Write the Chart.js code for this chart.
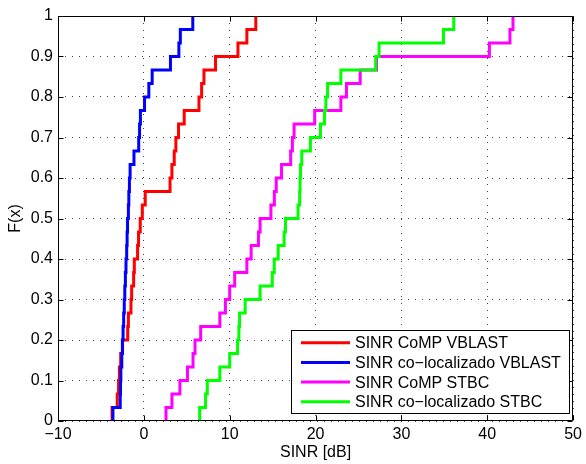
<!DOCTYPE html>
<html><head><meta charset="utf-8">
<script src="https://cdn.jsdelivr.net/npm/chart.js@4"></script>
<style>html,body{margin:0;padding:0;background:#fff;}</style>
</head><body>
<canvas id="c" width="586" height="464"></canvas>
<script>
const seriesLabels = ['SINR CoMP VBLAST', 'SINR co\u2212localizado VBLAST', 'SINR CoMP STBC', 'SINR co\u2212localizado STBC'];
const seriesColors = ['#ff0000', '#0000ff', '#ff00ff', '#00ff00'];
const redValues = [-3.7, -3.1, -2.95, -2.85, -2.7, -2.48, -1.88, -1.8, -1.5, -1.42, -1.19, -1.11, -0.73, -0.62, -0.42, -0.18, 0.16, 3.05, 3.27, 3.54, 3.73, 4.04, 4.7, 6.42, 6.73, 7.0, 8.35, 10.96, 12.0, 13.04];
const blueValues = [-3.6, -2.75, -2.72, -2.68, -2.57, -2.5, -2.42, -2.35, -2.28, -2.22, -2.15, -2.08, -2.0, -1.95, -1.9, -1.8, -1.75, -1.68, -1.6, -1.15, -0.6, -0.5, -0.4, 0.08, 0.58, 0.97, 3.1, 4.08, 4.25, 5.7];
const magentaValues = [2.58, 3.27, 4.2, 5.08, 5.73, 5.96, 6.62, 8.85, 9.5, 10.0, 10.58, 12.0, 12.5, 13.35, 13.54, 14.8, 15.2, 15.42, 16.04, 17.1, 17.3, 17.5, 19.9, 22.95, 23.6, 25.2, 27.1, 40.25, 42.64, 43.0];
const greenValues = [6.5, 7.19, 7.39, 8.85, 10.0, 10.92, 11.07, 11.15, 11.8, 13.54, 14.96, 15.19, 15.65, 16.34, 16.5, 17.96, 18.15, 18.2, 18.25, 18.4, 19.4, 20.57, 21.04, 21.2, 21.4, 22.95, 27.0, 27.4, 34.9, 36.1];
const xTickValues = [-10, 0, 10, 20, 30, 40, 50];
const xTickLabels = ['\u221210', '0', '10', '20', '30', '40', '50'];
const yTickValues = [0, 0.1, 0.2, 0.3, 0.4, 0.5, 0.6, 0.7, 0.8, 0.9, 1];
const yTickLabels = ['0', '0.1', '0.2', '0.3', '0.4', '0.5', '0.6', '0.7', '0.8', '0.9', '1'];
const xTitle = 'SINR [dB]';
const yTitle = 'F(x)';

function ecdf(values) {
  const n = values.length;
  const pts = [{x: values[0], y: 0}];
  values.forEach((v, i) => pts.push({x: v, y: (i + 1) / n}));
  return pts;
}
const allSeries = [redValues, blueValues, magentaValues, greenValues];

const FONT = '"Liberation Sans", Arial, Helvetica, sans-serif';
Chart.defaults.font.family = FONT;
Chart.defaults.font.size = 16;
Chart.defaults.color = '#000';

const framePlugin = {
  id: 'frame',
  afterDatasetsDraw(chart) {
    const {ctx, chartArea: ca, scales: {x, y}} = chart;
    ctx.save();
    ctx.strokeStyle = '#000';
    ctx.lineWidth = 1;
    const L = Math.round(ca.left) + 0.5, R = Math.round(ca.right) - 0.5;
    const T = Math.round(ca.top) + 0.5, B = Math.round(ca.bottom) - 0.5;
    ctx.beginPath();
    ctx.rect(L, T, R - L, B - T);
    xTickValues.forEach(v => {
      const p = Math.round(x.getPixelForValue(v)) + 0.5;
      ctx.moveTo(p, B); ctx.lineTo(p, B - 5);
      ctx.moveTo(p, T); ctx.lineTo(p, T + 5);
    });
    yTickValues.forEach(v => {
      const p = Math.round(y.getPixelForValue(v)) + 0.5;
      ctx.moveTo(L, p); ctx.lineTo(L + 5, p);
      ctx.moveTo(R, p); ctx.lineTo(R - 5, p);
    });
    ctx.stroke();
    ctx.restore();
  },
  afterDraw(chart) {
    const {ctx, chartArea: ca} = chart;
    const right = Math.round(ca.right) - 3, bottom = Math.round(ca.bottom) - 7;
    const w = 279, h = 84;
    const left = right - w, top = bottom - h;
    ctx.save();
    ctx.fillStyle = '#fff';
    ctx.fillRect(left, top, w, h);
    ctx.strokeStyle = '#000';
    ctx.lineWidth = 1;
    ctx.strokeRect(left + 0.5, top + 0.5, w - 1, h - 1);
    ctx.font = '16px ' + FONT;
    ctx.textBaseline = 'middle';
    ctx.textAlign = 'left';
    chart.data.datasets.forEach((ds, i) => {
      const yy = top + 12.7 + i * 19.7;
      ctx.strokeStyle = ds.borderColor;
      ctx.lineWidth = 3;
      ctx.beginPath();
      ctx.moveTo(left + 10, yy); ctx.lineTo(left + 59, yy);
      ctx.stroke();
      ctx.fillStyle = '#000';
      ctx.fillText(ds.label, left + 64, yy + 1);
    });
    ctx.restore();
  }
};

new Chart(document.getElementById('c'), {
  type: 'scatter',
  data: {
    datasets: allSeries.map((vals, i) => ({
      label: seriesLabels[i],
      data: ecdf(vals),
      showLine: true,
      stepped: 'before',
      borderColor: seriesColors[i],
      backgroundColor: seriesColors[i],
      borderWidth: 3,
      pointRadius: 0,
      fill: false,
      borderJoinStyle: 'miter',
      order: allSeries.length - i
    }))
  },
  options: {
    responsive: false,
    animation: false,
    devicePixelRatio: 1,
    layout: {padding: {left: 0, right: 9, top: 16, bottom: 0}},
    plugins: {legend: {display: false}, tooltip: {enabled: false}},
    scales: {
      x: {
        type: 'linear', min: -10, max: 50, position: 'bottom',
        afterBuildTicks: s => { s.ticks = xTickValues.map(v => ({value: v})); },
        afterFit: s => { s.height = 43; },
        ticks: {callback: (v, i) => xTickLabels[i], padding: 4, maxRotation: 0, autoSkip: false, color: '#000'},
        grid: {color: 'rgba(0,0,0,0.75)', lineWidth: 1, drawTicks: false},
        border: {display: false, dash: [1, 6]},
        title: {display: true, text: xTitle, color: '#000', font: {size: 16}, padding: {top: 0, bottom: 2}}
      },
      y: {
        type: 'linear', min: 0, max: 1,
        afterBuildTicks: s => { s.ticks = yTickValues.map(v => ({value: v})); },
        afterFit: s => { s.width = 58; },
        ticks: {callback: (v, i) => yTickLabels[i], padding: 5, autoSkip: false, color: '#000'},
        grid: {color: 'rgba(0,0,0,0.75)', lineWidth: 1, drawTicks: false},
        border: {display: false, dash: [1, 6]},
        title: {display: true, text: yTitle, color: '#000', font: {size: 16}, padding: {top: 6, bottom: 0}}
      }
    }
  },
  plugins: [framePlugin]
});
</script>
</body></html>
